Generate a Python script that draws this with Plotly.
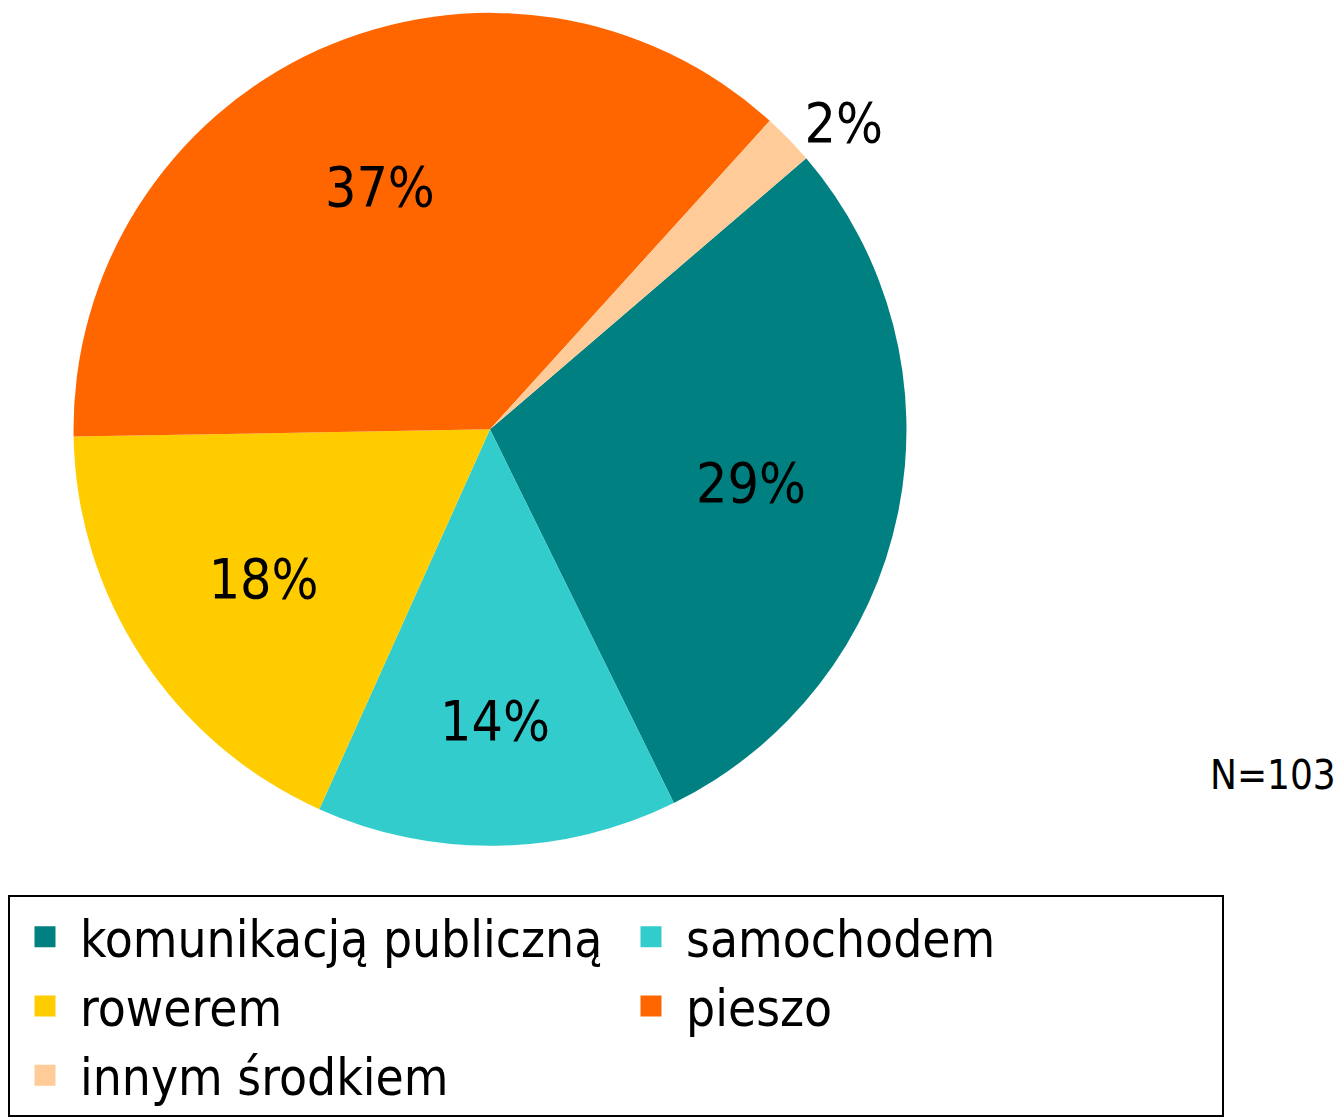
import plotly.graph_objects as go

categories = ["komunikacją publiczną", "samochodem", "rowerem", "pieszo", "innym środkiem"]
values = [29, 14, 18, 37, 2]
colors = ["#008080", "#33CCCC", "#FFCC00", "#FF6600", "#FFCC99"]
inside_labels = ["inside", "inside", "inside", "inside", "none"]
outside_labels = ["none", "none", "none", "none", "outside"]
note = "N=103"

W, H = 1343, 1117
FONT = "DejaVu Sans Condensed, DejaVu Sans, sans-serif"
DOMAIN = dict(x=[70 / W, 910 / W], y=[1 - 855 / H, 1 - 13 / H])

fig = go.Figure()

# solid pie with the outside label of the smallest slice
fig.add_trace(go.Pie(
    labels=categories,
    values=values,
    marker=dict(colors=colors, line=dict(width=0)),
    sort=False,
    direction="clockwise",
    rotation=49.4,
    texttemplate="%{value}%",
    textposition=outside_labels,
    outsidetextfont=dict(family=FONT, size=55, color="black"),
    showlegend=False,
    domain=DOMAIN,
    hoverinfo="label+percent",
))

# transparent ring carrying the inside labels further out from the centre
fig.add_trace(go.Pie(
    labels=categories,
    values=values,
    marker=dict(colors=["rgba(0,0,0,0)"] * len(values), line=dict(width=0)),
    sort=False,
    direction="clockwise",
    rotation=49.4,
    hole=0.28,
    texttemplate="%{value}%",
    textposition=inside_labels,
    insidetextorientation="horizontal",
    textfont=dict(family=FONT, size=55, color="black"),
    showlegend=False,
    domain=DOMAIN,
    hoverinfo="skip",
))

# legend entries with larger square swatches
for name, col in zip(categories, colors):
    fig.add_trace(go.Scatter(
        x=[None], y=[None], mode="markers", name=name,
        marker=dict(symbol="square", size=16, color=col, line=dict(color=col, width=5)),
        showlegend=True, hoverinfo="skip",
    ))

fig.add_annotation(
    text=note, x=1338 / W, y=1 - 783 / H, xref="paper", yref="paper",
    xanchor="right", yanchor="middle", showarrow=False,
    font=dict(family=FONT, size=40, color="black"),
)

fig.update_layout(
    width=W, height=H,
    margin=dict(l=0, r=0, t=0, b=0),
    paper_bgcolor="white", plot_bgcolor="rgba(0,0,0,0)",
    font=dict(family=FONT, color="black"),
    xaxis=dict(visible=False), yaxis=dict(visible=False),
    legend=dict(
        orientation="h",
        x=8 / W, y=1 - 905 / H, xanchor="left", yanchor="top",
        entrywidth=531, entrywidthmode="pixels",
        itemwidth=60, itemsizing="trace",
        font=dict(family=FONT, size=51, color="black"),
        bordercolor="black", borderwidth=2, bgcolor="white",
        traceorder="normal",
    ),
)

fig.write_html("out.html", config={"displayModeBar": False},
               post_script="document.body.style.margin='0px';")
